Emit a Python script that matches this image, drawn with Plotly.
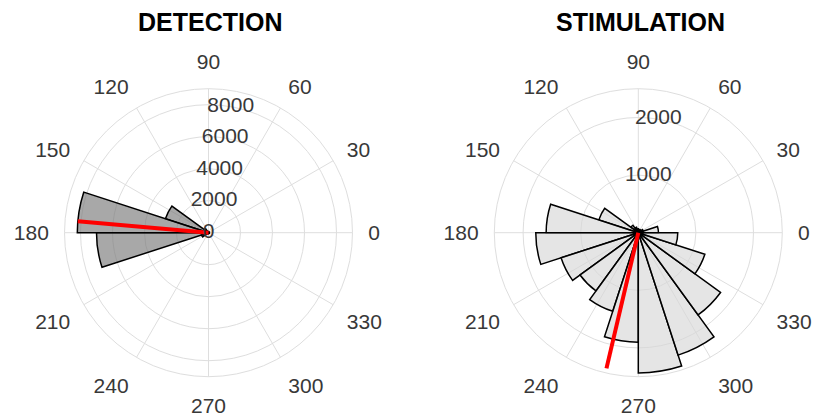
import plotly.graph_objects as go

# ---- data ----
bin_centers = [9, 27, 45, 63, 81, 99, 117, 135, 153, 171,
               189, 207, 225, 243, 261, 279, 297, 315, 333, 351]
bin_width = 18

detection_counts = [60, 40, 30, 30, 30, 40, 80, 300, 2830, 8200,
                    7000, 450, 100, 60, 50, 40, 40, 40, 40, 50]
stimulation_counts = [350, 90, 60, 50, 60, 70, 100, 160, 720, 1600,
                      1780, 1410, 1250, 1435, 1900, 2435, 2235, 1765, 1215, 685]

detection_mean_angle = 175
detection_mean_len = 8200
stimulation_mean_angle = 256.8
stimulation_mean_len = 2420

detection_rticks = [0, 2000, 4000, 6000, 8000]
detection_rmax = 9000
stimulation_rticks = [0, 1000, 2000]
stimulation_rlabels = [1000, 2000]
stimulation_rmax = 2500

angle_ticks = list(range(0, 360, 30))

titles = ["DETECTION", "STIMULATION"]

# ---- style ----
FONT = "Liberation Sans, Arial, sans-serif"
TICK_COLOR = "#383838"
GRID = "#dedede"

fig = go.Figure()

fig.add_trace(go.Barpolar(
    r=detection_counts, theta=bin_centers, width=[bin_width] * len(bin_centers),
    marker=dict(color="rgba(121,121,121,0.65)", line=dict(color="black", width=1.5)),
    subplot="polar", showlegend=False, hoverinfo="skip"))
fig.add_trace(go.Scatterpolar(
    r=[0, detection_mean_len], theta=[0, detection_mean_angle], mode="lines",
    line=dict(color="red", width=4), subplot="polar", showlegend=False))
fig.add_trace(go.Scatterpolar(
    r=detection_rticks, theta=[80] * len(detection_rticks), mode="text",
    text=[str(v) for v in detection_rticks], textposition="middle center",
    textfont=dict(family=FONT, size=21, color=TICK_COLOR),
    subplot="polar", showlegend=False))

fig.add_trace(go.Barpolar(
    r=stimulation_counts, theta=bin_centers, width=[bin_width] * len(bin_centers),
    marker=dict(color="rgba(215,215,215,0.65)", line=dict(color="black", width=1.5)),
    subplot="polar2", showlegend=False, hoverinfo="skip"))
fig.add_trace(go.Scatterpolar(
    r=[0, stimulation_mean_len], theta=[0, stimulation_mean_angle], mode="lines",
    line=dict(color="red", width=4), subplot="polar2", showlegend=False))
fig.add_trace(go.Scatterpolar(
    r=stimulation_rlabels, theta=[80] * len(stimulation_rlabels), mode="text",
    text=[str(v) for v in stimulation_rlabels], textposition="middle center",
    textfont=dict(family=FONT, size=21, color=TICK_COLOR),
    subplot="polar2", showlegend=False))


def polar_layout(xdom, rmax, rticks):
    return dict(
        domain=dict(x=xdom, y=[0.0945, 0.7868]),
        bgcolor="white",
        bargap=0,
        radialaxis=dict(range=[0, rmax], tickvals=rticks, showticklabels=False,
                        ticks="", showline=False, gridcolor=GRID, gridwidth=1),
        angularaxis=dict(rotation=0, direction="counterclockwise",
                         tickvals=angle_ticks, ticktext=[str(a) for a in angle_ticks],
                         ticks="outside", ticklen=11, tickcolor="rgba(0,0,0,0)",
                         tickfont=dict(family=FONT, size=21, color=TICK_COLOR),
                         showline=True, linecolor=GRID, linewidth=1,
                         gridcolor=GRID, gridwidth=1),
    )


fig.update_layout(
    width=816, height=416,
    margin=dict(l=0, r=0, t=0, b=0),
    paper_bgcolor="white",
    polar=polar_layout([0.07904, 0.43199], detection_rmax, detection_rticks),
    polar2=polar_layout([0.60576, 0.95870], stimulation_rmax, stimulation_rticks),
    annotations=[
        dict(text="<b>%s</b>" % titles[0], x=210 / 816, y=1 - 22 / 416,
             xref="paper", yref="paper", showarrow=False, xanchor="center", yanchor="middle",
             font=dict(family=FONT, size=25, color="black")),
        dict(text="<b>%s</b>" % titles[1], x=640 / 816, y=1 - 22 / 416,
             xref="paper", yref="paper", showarrow=False, xanchor="center", yanchor="middle",
             font=dict(family=FONT, size=25, color="black")),
    ],
)

fig.write_html("out.html", config={"displayModeBar": False},
               post_script="document.body.style.margin='0px';document.body.style.overflow='hidden';")
